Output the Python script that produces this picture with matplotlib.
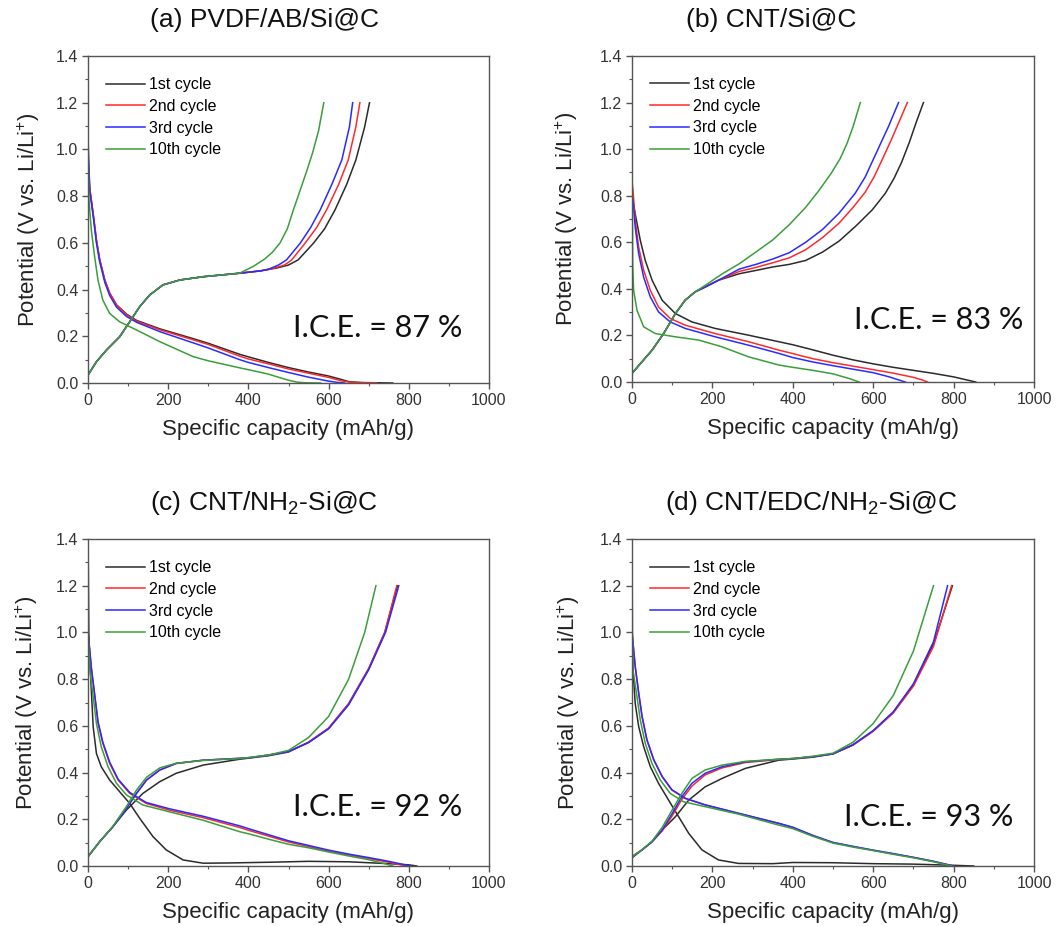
import matplotlib
matplotlib.use('Agg')
import matplotlib.pyplot as plt
import matplotlib.ticker as ticker

plt.rcParams['font.family'] = ['Liberation Sans', 'DejaVu Sans']
plt.rcParams['mathtext.fontset'] = 'custom'
plt.rcParams['mathtext.rm'] = 'Liberation Sans'

# ---- data: (capacity mAh/g, potential V) ----
cycles = ['1st cycle', '2nd cycle', '3rd cycle', '10th cycle']
colors = ['#2b2b2b', '#ff2a2a', '#2a2aff', '#3a9e3a']

# (a) PVDF/AB/Si@C
a_dis_1 = [(0, 0.92), (4.5, 0.83), (12.5, 0.73), (21, 0.61), (29, 0.53), (42, 0.44), (54, 0.385), (71, 0.335),
           (96, 0.295), (121, 0.268), (179, 0.232), (262, 0.19), (300, 0.17), (378, 0.123), (400, 0.112),
           (450, 0.088), (500, 0.066), (550, 0.047), (600, 0.03), (630, 0.016), (650, 0.006), (680, 0.002),
           (720, 0.001), (760, 0)]
a_dis_2 = [(0, 0.98), (4.5, 0.83), (12.5, 0.73), (21, 0.615), (29, 0.53), (42, 0.44), (54, 0.385), (71, 0.334),
           (96, 0.292), (121, 0.265), (179, 0.228), (262, 0.185), (300, 0.165), (378, 0.115), (400, 0.103),
           (450, 0.082), (500, 0.06), (550, 0.042), (600, 0.024), (630, 0.01), (650, 0.004), (690, 0.001), (720, 0)]
a_dis_3 = [(0, 1.05), (4.5, 0.82), (12.5, 0.72), (21, 0.6), (29, 0.52), (42, 0.43), (54, 0.375), (71, 0.325),
           (96, 0.285), (121, 0.26), (179, 0.22), (262, 0.172), (300, 0.15), (378, 0.1), (400, 0.088),
           (450, 0.066), (500, 0.045), (550, 0.025), (600, 0.008), (620, 0.003), (640, 0)]
a_dis_10 = [(0, 1.0), (2.5, 0.78), (8.3, 0.655), (16.6, 0.54), (25, 0.44), (37, 0.355), (54, 0.298), (79, 0.262),
            (121, 0.227), (179, 0.177), (262, 0.113), (300, 0.095), (378, 0.065), (400, 0.057), (450, 0.038),
            (480, 0.022), (500, 0.012), (520, 0.004), (540, 0.001), (580, 0)]
a_chg_1 = [(0, 0.034), (21, 0.091), (46, 0.141), (79, 0.198), (104, 0.262), (129, 0.327), (154, 0.377), (187, 0.42),
           (229, 0.441), (287, 0.455), (378, 0.47), (430, 0.48), (470, 0.492), (500, 0.505), (524, 0.527),
           (562, 0.598), (590, 0.66), (616, 0.741), (645, 0.85), (668, 0.955), (690, 1.097), (702, 1.2)]
a_chg_2 = [(0, 0.034), (21, 0.091), (46, 0.141), (79, 0.198), (104, 0.262), (129, 0.327), (154, 0.377), (187, 0.42),
           (229, 0.441), (287, 0.455), (378, 0.47), (430, 0.48), (460, 0.49), (490, 0.505), (508, 0.527),
           (541, 0.598), (570, 0.665), (595, 0.741), (625, 0.85), (649, 0.955), (668, 1.097), (678, 1.2)]
a_chg_3 = [(0, 0.034), (21, 0.091), (46, 0.141), (79, 0.198), (104, 0.262), (129, 0.327), (154, 0.377), (187, 0.42),
           (229, 0.441), (287, 0.455), (378, 0.47), (430, 0.48), (450, 0.487), (475, 0.505), (495, 0.527),
           (529, 0.598), (555, 0.665), (579, 0.741), (608, 0.85), (633, 0.955), (652, 1.097), (660, 1.2)]
a_chg_10 = [(0, 0.034), (21, 0.091), (46, 0.141), (79, 0.198), (104, 0.262), (129, 0.327), (154, 0.377),
            (187, 0.42), (229, 0.441), (287, 0.455), (378, 0.47), (413, 0.5), (440, 0.53), (460, 0.56),
            (479, 0.6), (497, 0.66), (512, 0.74), (530, 0.83), (545, 0.905), (560, 0.985), (575, 1.08), (588, 1.2)]

# (b) CNT/Si@C
b_dis_1 = [(0, 0.8), (8, 0.722), (20.7, 0.608), (33, 0.522), (50, 0.437), (75, 0.351), (108, 0.294), (149, 0.258),
           (207, 0.23), (290, 0.201), (365, 0.173), (400, 0.16), (450, 0.138), (500, 0.115), (550, 0.095),
           (600, 0.078), (650, 0.063), (700, 0.05), (750, 0.037), (800, 0.022), (830, 0.01), (855, 0)]
b_dis_2 = [(0, 0.86), (2.5, 0.822), (8, 0.694), (16.6, 0.579), (29, 0.48), (45.6, 0.394), (66, 0.322), (95, 0.273),
           (132.5, 0.244), (207, 0.208), (290, 0.173), (365, 0.137), (400, 0.122), (450, 0.1), (500, 0.083),
           (550, 0.068), (600, 0.053), (650, 0.038), (700, 0.02), (720, 0.01), (735, 0)]
b_dis_3 = [(0, 0.8), (2.5, 0.78), (8, 0.665), (16.6, 0.551), (29, 0.45), (45.6, 0.365), (66, 0.301), (95, 0.258),
           (132.5, 0.23), (207, 0.194), (290, 0.158), (365, 0.123), (400, 0.105), (450, 0.086), (500, 0.07),
           (550, 0.055), (600, 0.04), (640, 0.022), (665, 0.008), (680, 0)]
b_dis_10 = [(0, 1.2), (0.8, 0.8), (1.7, 0.508), (4, 0.394), (12.4, 0.308), (29, 0.237), (58, 0.208), (108, 0.194),
            (166, 0.18), (224, 0.151), (290, 0.108), (365, 0.073), (400, 0.063), (450, 0.05), (500, 0.035),
            (540, 0.015), (565, 0)]
b_chg_1 = [(0, 0.037), (25, 0.087), (50, 0.137), (79, 0.209), (108, 0.294), (132, 0.351), (157, 0.387), (182, 0.408),
           (215, 0.437), (267, 0.465), (308, 0.479), (350, 0.494), (391, 0.505), (432, 0.522), (474, 0.558),
           (515, 0.605), (557, 0.67), (598, 0.74), (630, 0.81), (652, 0.875), (671, 0.945), (690, 1.03),
           (708, 1.12), (725, 1.2)]
b_chg_2 = [(0, 0.037), (25, 0.087), (50, 0.137), (79, 0.209), (108, 0.294), (132, 0.351), (157, 0.387), (182, 0.408),
           (215, 0.437), (267, 0.475), (308, 0.492), (350, 0.512), (391, 0.533), (432, 0.568), (474, 0.62),
           (515, 0.682), (550, 0.75), (580, 0.815), (602, 0.88), (621, 0.95), (645, 1.04), (665, 1.12), (685, 1.2)]
b_chg_3 = [(0, 0.037), (25, 0.087), (50, 0.137), (79, 0.209), (108, 0.294), (132, 0.351), (157, 0.387), (182, 0.408),
           (215, 0.437), (267, 0.485), (308, 0.505), (350, 0.528), (391, 0.555), (432, 0.6), (474, 0.655),
           (515, 0.725), (555, 0.81), (580, 0.88), (600, 0.955), (620, 1.03), (638, 1.097), (663, 1.2)]
b_chg_10 = [(0, 0.037), (25, 0.087), (50, 0.137), (79, 0.209), (108, 0.294), (132, 0.351), (157, 0.387),
            (182, 0.415), (225, 0.465), (267, 0.508), (308, 0.558), (350, 0.61), (391, 0.675), (432, 0.75),
            (464, 0.82), (495, 0.895), (518, 0.96), (535, 1.025), (550, 1.097), (568, 1.2)]

# (c) CNT/NH2-Si@C
c_dis_1 = [(0, 1.45), (2, 1.0), (4.6, 0.882), (8.7, 0.739), (12.9, 0.596), (21, 0.482), (33, 0.425), (54, 0.368),
           (79, 0.318), (104, 0.268), (129, 0.204), (162, 0.126), (195, 0.069), (237, 0.026), (287, 0.012),
           (350, 0.013), (450, 0.016), (550, 0.02), (650, 0.018), (700, 0.014), (750, 0.01), (800, 0.005), (820, 0)]
c_dis_2 = [(0, 1.0), (8.7, 0.839), (17, 0.725), (25, 0.611), (37, 0.525), (54, 0.439), (75, 0.368), (104, 0.311),
           (145, 0.268), (203, 0.239), (287, 0.207), (378, 0.165), (400, 0.153), (450, 0.128), (500, 0.103),
           (550, 0.083), (600, 0.063), (650, 0.047), (700, 0.032), (750, 0.016), (780, 0.005), (800, 0)]
c_dis_3 = [(0, 1.0), (8.7, 0.845), (17, 0.73), (25, 0.618), (37, 0.53), (54, 0.445), (75, 0.372), (104, 0.315),
           (145, 0.272), (203, 0.245), (287, 0.213), (378, 0.172), (400, 0.16), (450, 0.134), (500, 0.108),
           (550, 0.088), (600, 0.068), (650, 0.051), (700, 0.036), (750, 0.02), (790, 0.005), (805, 0)]
c_dis_10 = [(0, 1.0), (4.6, 0.839), (12.9, 0.725), (21, 0.611), (33, 0.511), (50, 0.425), (71, 0.354), (96, 0.304),
            (137, 0.261), (203, 0.232), (287, 0.196), (378, 0.147), (400, 0.138), (450, 0.115), (500, 0.093),
            (550, 0.078), (600, 0.06), (650, 0.043), (700, 0.027), (740, 0.01), (760, 0)]
c_chg_1 = [(0, 0.04), (29, 0.104), (62, 0.168), (96, 0.24), (137, 0.311), (179, 0.361), (220, 0.397), (287, 0.432),
           (378, 0.457), (450, 0.472), (500, 0.488), (550, 0.53), (600, 0.59), (650, 0.695), (700, 0.845),
           (740, 1.0), (772, 1.2)]
c_chg_2 = [(0, 0.04), (29, 0.104), (62, 0.168), (96, 0.247), (121, 0.311), (146, 0.368), (179, 0.411), (220, 0.439),
           (287, 0.453), (378, 0.461), (400, 0.463), (450, 0.475), (500, 0.49), (550, 0.53), (600, 0.59),
           (650, 0.695), (700, 0.845), (740, 1.0), (770, 1.2)]
c_chg_3 = [(0, 0.04), (29, 0.104), (62, 0.168), (96, 0.247), (121, 0.311), (146, 0.368), (179, 0.411), (220, 0.439),
           (287, 0.453), (378, 0.461), (400, 0.463), (450, 0.475), (500, 0.49), (550, 0.528), (600, 0.587),
           (650, 0.69), (700, 0.84), (742, 1.0), (775, 1.2)]
c_chg_10 = [(0, 0.04), (29, 0.104), (62, 0.17), (96, 0.255), (121, 0.325), (146, 0.38), (179, 0.42), (220, 0.44),
            (287, 0.452), (378, 0.46), (450, 0.475), (500, 0.495), (550, 0.55), (600, 0.64), (650, 0.8),
            (690, 1.0), (718, 1.2)]

# (d) CNT/EDC/NH2-Si@C
d_dis_1 = [(0, 1.45), (1, 1.0), (2.5, 0.839), (8, 0.696), (16.6, 0.597), (29, 0.511), (45.6, 0.425), (66, 0.354),
           (91, 0.282), (116, 0.211), (141, 0.14), (174, 0.069), (215, 0.026), (265, 0.011), (350, 0.01),
           (400, 0.015), (500, 0.014), (600, 0.01), (700, 0.008), (800, 0.003), (850, 0)]
d_dis_2 = [(0, 1.0), (8, 0.853), (16.6, 0.739), (25, 0.639), (37, 0.539), (54, 0.454), (75, 0.382), (99, 0.325),
           (132.5, 0.289), (182, 0.261), (265, 0.225), (365, 0.182), (400, 0.165), (450, 0.13), (500, 0.1),
           (550, 0.083), (600, 0.067), (650, 0.052), (700, 0.037), (750, 0.02), (780, 0.008), (800, 0)]
d_dis_3 = [(0, 1.0), (8, 0.855), (16.6, 0.742), (25, 0.642), (37, 0.542), (54, 0.456), (75, 0.384), (99, 0.327),
           (132.5, 0.29), (182, 0.262), (265, 0.226), (365, 0.183), (400, 0.166), (450, 0.131), (500, 0.101),
           (550, 0.084), (600, 0.068), (650, 0.053), (700, 0.037), (750, 0.02), (785, 0.006), (800, 0)]
d_dis_10 = [(0, 1.05), (2.5, 0.839), (12.4, 0.725), (20.7, 0.625), (33, 0.525), (49.7, 0.439), (70.4, 0.368),
            (95, 0.311), (128, 0.275), (182, 0.254), (265, 0.222), (365, 0.175), (400, 0.16), (450, 0.127),
            (500, 0.098), (550, 0.081), (600, 0.066), (650, 0.05), (700, 0.035), (750, 0.018), (780, 0.006), (795, 0)]
d_chg_1 = [(0, 0.035), (25, 0.069), (50, 0.104), (75, 0.154), (108, 0.211), (141, 0.282), (182, 0.339), (224, 0.375),
           (282, 0.418), (365, 0.453), (400, 0.458), (450, 0.466), (500, 0.48), (550, 0.518), (600, 0.578),
           (650, 0.658), (700, 0.775), (750, 0.95), (797, 1.2)]
d_chg_2 = [(0, 0.04), (25, 0.069), (50, 0.104), (75, 0.15), (100, 0.215), (124, 0.285), (149, 0.342), (182, 0.39),
           (224, 0.42), (282, 0.443), (365, 0.456), (400, 0.46), (450, 0.468), (500, 0.48), (550, 0.518),
           (600, 0.577), (650, 0.655), (700, 0.77), (750, 0.94), (795, 1.2)]
d_chg_3 = [(0, 0.04), (25, 0.069), (50, 0.104), (75, 0.154), (100, 0.225), (124, 0.297), (149, 0.354), (182, 0.397),
           (224, 0.425), (282, 0.446), (365, 0.457), (400, 0.46), (450, 0.468), (500, 0.48), (550, 0.52),
           (600, 0.58), (650, 0.66), (700, 0.78), (750, 0.96), (785, 1.2)]
d_chg_10 = [(0, 0.04), (25, 0.07), (50, 0.107), (75, 0.165), (100, 0.24), (124, 0.311), (149, 0.375), (182, 0.411),
            (224, 0.432), (282, 0.448), (365, 0.457), (400, 0.46), (450, 0.47), (500, 0.483), (550, 0.53),
            (600, 0.61), (650, 0.73), (700, 0.92), (750, 1.2)]

titles = ['(a) PVDF/AB/Si@C', '(b) CNT/Si@C', r'(c) CNT/NH$_\mathregular{2}$-Si@C',
          r'(d) CNT/EDC/NH$_\mathregular{2}$-Si@C']
ice_labels = ['I.C.E. = 87 %', 'I.C.E. = 83 %', 'I.C.E. = 92 %', 'I.C.E. = 93 %']

panels = [
    ([a_dis_1, a_dis_2, a_dis_3, a_dis_10], [a_chg_1, a_chg_2, a_chg_3, a_chg_10]),
    ([b_dis_1, b_dis_2, b_dis_3, b_dis_10], [b_chg_1, b_chg_2, b_chg_3, b_chg_10]),
    ([c_dis_1, c_dis_2, c_dis_3, c_dis_10], [c_chg_1, c_chg_2, c_chg_3, c_chg_10]),
    ([d_dis_1, d_dis_2, d_dis_3, d_dis_10], [d_chg_1, d_chg_2, d_chg_3, d_chg_10]),
]

# ---- layout (pixel boxes: left, top, right, bottom) ----
W, H = 1059, 926
boxes = [(88, 56, 489, 383), (632, 56, 1034, 382), (88, 539, 489, 866), (632, 539, 1034, 866)]
title_pos = [(265, 20), (771, 20), (264, 503), (811, 503)]
ice_pos = [(723, 0.235), (762, 0.265), (722, 0.254), (738, 0.211)]
ylab_x = [-0.115, -0.129, -0.12, -0.124]

fig = plt.figure(figsize=(W / 100, H / 100), dpi=100)

for i, (dis, chg) in enumerate(panels):
    l, t, r, b = boxes[i]
    ax = fig.add_axes([l / W, 1 - b / H, (r - l) / W, (b - t) / H])
    for k in range(4):
        q, v = zip(*dis[k])
        ax.plot(q, v, color=colors[k], lw=1.1, label=cycles[k])
        q, v = zip(*chg[k])
        ax.plot(q, v, color=colors[k], lw=1.1)

    ax.set_xlim(0, 1000)
    ax.set_ylim(0, 1.4)
    ax.xaxis.set_major_locator(ticker.MultipleLocator(200))
    ax.xaxis.set_minor_locator(ticker.MultipleLocator(100))
    ax.yaxis.set_major_locator(ticker.MultipleLocator(0.2))
    ax.yaxis.set_minor_locator(ticker.MultipleLocator(0.1))
    ax.yaxis.set_major_formatter(ticker.FormatStrFormatter('%.1f'))
    ax.tick_params(which='major', direction='out', length=4, width=1, color='#555555',
                   labelsize=11.5, labelcolor='#333333', pad=3)
    ax.tick_params(which='minor', direction='out', length=2.5, width=0.8, color='#555555')
    for s in ax.spines.values():
        s.set_color('#555555')
        s.set_linewidth(1.0)

    ax.set_xlabel('Specific capacity (mAh/g)', fontsize=16, color='#222222')
    ax.set_ylabel(r'Potential (V vs. Li/Li$^\mathregular{+}$)', fontsize=16, color='#222222')
    ax.xaxis.set_label_coords(0.5, -0.11)
    ax.yaxis.set_label_coords(ylab_x[i], 0.5)

    ax.legend(loc='upper left', bbox_to_anchor=(0.03, 0.955), frameon=False, fontsize=11.5,
              handlelength=2.4, handletextpad=0.25, labelspacing=0.42, borderaxespad=0)

    ax.text(ice_pos[i][0], ice_pos[i][1], ice_labels[i], family=['Lato', 'DejaVu Sans'],
            fontsize=22, ha='center', va='center', color='#111111')

    fig.text(title_pos[i][0] / W, 1 - title_pos[i][1] / H, titles[i], fontsize=19,
             ha='center', va='center', color='#111111')

fig.savefig('out.png', dpi=100)
